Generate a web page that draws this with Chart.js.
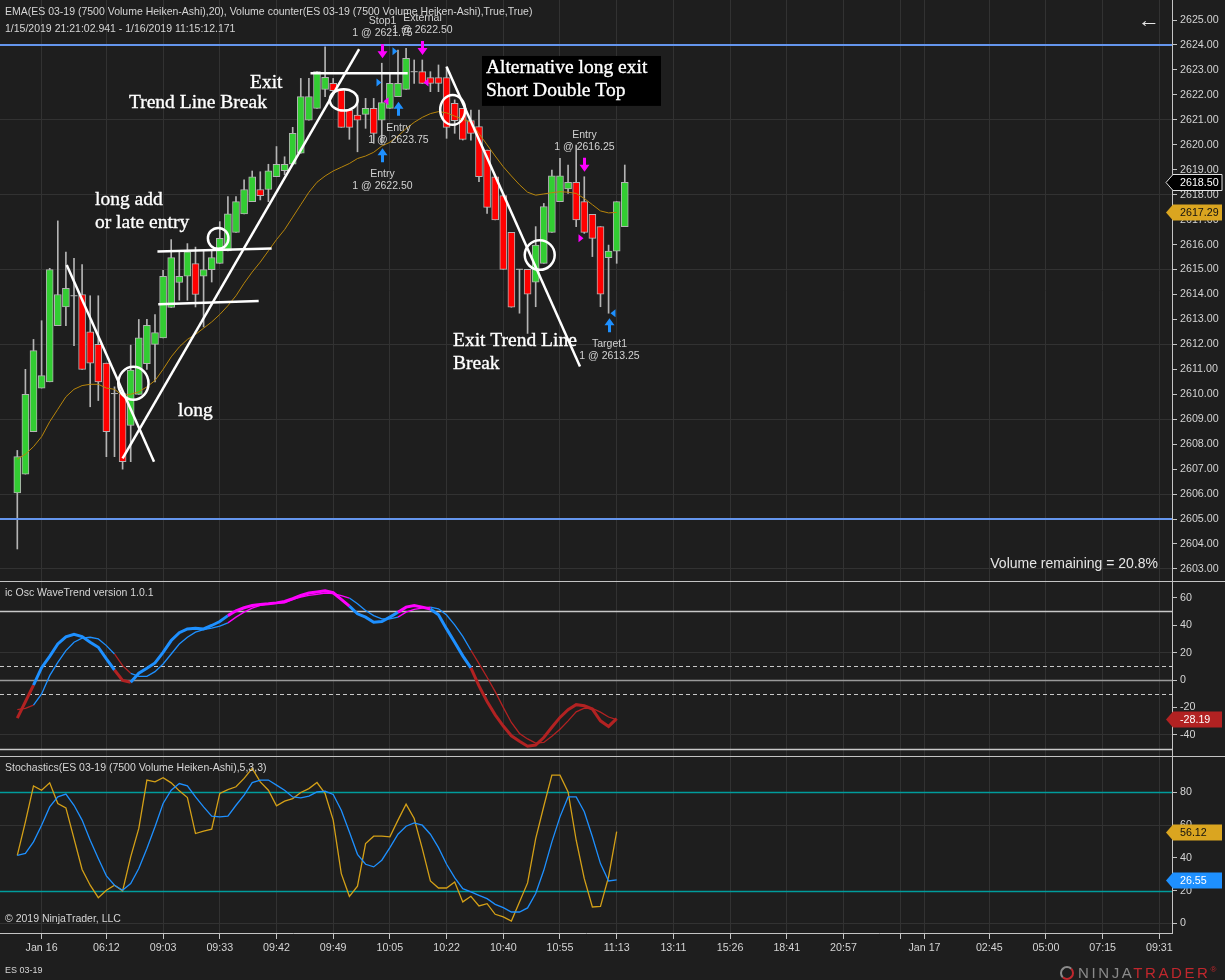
<!DOCTYPE html>
<html lang="en">
<head>
<meta charset="utf-8">
<title>ES 03-19 · 7500 Volume Heiken-Ashi</title>
<script src="https://cdn.jsdelivr.net/npm/chart.js@4.4.1/dist/chart.umd.min.js"></script>
<style>
  html, body { margin: 0; padding: 0; background: #1e1e1e; }
  #chart { position: relative; width: 1225px; height: 980px; overflow: hidden; background: #1e1e1e;
           font-family: "Liberation Sans", Arial, sans-serif; color: #d6d6d6; }
  #chart canvas { position: absolute; left: 0; }
  .t { position: absolute; white-space: nowrap; font-size: 10.5px; line-height: 14px; }
  .sep { position: absolute; left: 0; width: 1225px; height: 1px; background: #c4c4c4; }
</style>
</head>
<body>
<div id="chart">
  <canvas id="pricePanel" width="1225" height="581" style="top:0"></canvas>
  <canvas id="wavePanel" width="1225" height="174" style="top:582px"></canvas>
  <canvas id="stochPanel" width="1225" height="223" style="top:757px"></canvas>
  <div class="sep" style="top:581px"></div>
  <div class="sep" style="top:756px"></div>
  <div class="t" style="left:5px;top:4px">EMA(ES 03-19 (7500 Volume Heiken-Ashi),20), Volume counter(ES 03-19 (7500 Volume Heiken-Ashi),True,True)</div>
  <div class="t" style="left:5px;top:21px">1/15/2019 21:21:02.941 - 1/16/2019 11:15:12.171</div>
  <div class="t" style="left:1138px;top:7px;font-size:22px;line-height:26px;color:#e6e6e6">←</div>
  <div class="t" style="right:67px;top:555px;font-size:14px;line-height:16px;color:#e6e6e6">Volume remaining = 20.8%</div>
  <div class="t" style="left:5px;top:585px">ic Osc WaveTrend version 1.0.1</div>
  <div class="t" style="left:5px;top:760px">Stochastics(ES 03-19 (7500 Volume Heiken-Ashi),5,3,3)</div>
  <div class="t" style="left:5px;top:911px">© 2019 NinjaTrader, LLC</div>
  <div class="t" style="left:5px;top:964px;font-size:9px;line-height:12px">ES 03-19</div>
  <div class="t" style="left:1060px;top:961px;font-size:15px;line-height:18px;letter-spacing:2.6px">
    <span style="display:inline-block;width:14px;height:14px;border:2px solid #8c8c8c;border-right-color:#c0272d;border-bottom-color:#c0272d;border-radius:50%;vertical-align:-2px;margin-right:4px;box-sizing:border-box"></span><span style="color:#8a8a8a">NINJA</span><span style="color:#c0272d">TRADER</span><span style="color:#c0272d;font-size:8px;vertical-align:6px;letter-spacing:0">®</span>
  </div>
</div>

<script>
// ---- price bars (7500 volume Heiken-Ashi), bar index 0..75 ----
const opens = [2606.05, 2606.8, 2608.5, 2610.25, 2610.5, 2612.75, 2613.5, 2613.95, 2614.0, 2612.5,
  2612.0, 2611.25, 2610.03, 2610.03, 2608.75, 2610.0, 2611.23, 2612.0, 2612.26, 2613.48,
  2614.48, 2614.73, 2615.24, 2614.73, 2615.0, 2615.25, 2615.75, 2616.49, 2617.23, 2617.72,
  2618.21, 2618.21, 2618.72, 2618.96, 2619.22, 2619.66, 2620.99, 2621.46, 2622.22, 2622.46,
  2622.2, 2621.39, 2621.19, 2621.22, 2621.46, 2620.99, 2621.46, 2621.93, 2622.22, 2622.93,
  2622.93, 2622.69, 2622.69, 2622.69, 2621.66, 2621.46, 2620.97, 2620.73, 2619.79, 2618.72,
  2617.96, 2616.49, 2615.01, 2615.01, 2614.49, 2615.25, 2616.49, 2617.72, 2618.23, 2618.5,
  2617.72, 2617.21, 2616.72, 2615.48, 2615.74, 2616.72];
const highs = [2607.75, 2611.0, 2612.2, 2612.95, 2615.05, 2616.95, 2615.7, 2615.45, 2615.2, 2613.95,
  2613.95, 2611.25, 2610.3, 2610.03, 2611.97, 2613.0, 2613.0, 2613.2, 2614.97, 2616.2,
  2615.71, 2616.04, 2615.9, 2615.77, 2615.77, 2616.92, 2617.92, 2617.92, 2618.6, 2618.95,
  2618.92, 2619.22, 2619.93, 2619.52, 2620.7, 2622.66, 2622.66, 2622.93, 2623.93, 2622.66,
  2622.2, 2621.39, 2621.99, 2621.86, 2621.86, 2623.27, 2622.86, 2623.8, 2623.87, 2623.4,
  2623.4, 2622.93, 2623.2, 2623.13, 2621.8, 2621.46, 2621.39, 2621.39, 2619.79, 2618.72,
  2617.96, 2616.49, 2615.01, 2615.01, 2616.72, 2617.65, 2618.99, 2619.46, 2619.19, 2619.99,
  2618.72, 2617.21, 2616.72, 2615.98, 2617.72, 2619.19];
const lows = [2603.8, 2606.8, 2608.5, 2610.25, 2610.5, 2612.75, 2612.75, 2611.95, 2611.0, 2609.5,
  2609.75, 2607.5, 2607.5, 2607.0, 2607.3, 2610.0, 2611.0, 2610.5, 2612.26, 2613.48,
  2613.77, 2613.77, 2613.5, 2612.7, 2614.5, 2615.25, 2615.75, 2616.49, 2617.23, 2617.72,
  2617.79, 2617.72, 2618.72, 2618.8, 2619.22, 2619.66, 2620.99, 2621.46, 2621.93, 2622.1,
  2620.7, 2620.22, 2619.72, 2620.66, 2620.06, 2620.06, 2621.46, 2621.93, 2622.22, 2622.46,
  2622.46, 2622.13, 2622.13, 2620.26, 2620.46, 2620.19, 2620.19, 2618.52, 2617.25, 2616.99,
  2615.01, 2613.49, 2613.25, 2612.44, 2613.51, 2615.25, 2616.49, 2617.72, 2618.05, 2616.72,
  2616.45, 2615.52, 2613.51, 2613.25, 2615.25, 2616.72];
const closes = [2607.5, 2610.0, 2611.75, 2610.75, 2615.0, 2614.0, 2614.25, 2613.95, 2611.0, 2611.25,
  2610.5, 2608.5, 2610.03, 2607.3, 2610.97, 2612.26, 2612.76, 2612.47, 2614.73, 2615.48,
  2614.73, 2615.71, 2614.0, 2615.0, 2615.48, 2616.25, 2617.23, 2617.72, 2618.21, 2618.72,
  2617.96, 2618.96, 2619.22, 2619.22, 2620.46, 2621.93, 2621.93, 2622.93, 2622.7, 2622.17,
  2620.7, 2620.7, 2620.99, 2621.46, 2620.46, 2621.69, 2622.46, 2622.46, 2623.47, 2622.93,
  2622.46, 2622.46, 2622.46, 2620.7, 2620.97, 2620.22, 2620.46, 2618.72, 2617.49, 2616.99,
  2615.01, 2613.49, 2615.01, 2614.01, 2615.98, 2617.52, 2618.76, 2618.76, 2618.5, 2616.99,
  2616.49, 2616.25, 2614.01, 2615.74, 2617.72, 2618.5];

// ---- EMA(20), closed bars 0..74 ----
const ema20 = [2607.4, 2607.6, 2607.9, 2608.3, 2608.9, 2609.4, 2609.9, 2610.2, 2610.35, 2610.4,
  2610.4, 2610.25, 2610.2, 2609.95, 2610.0, 2610.1, 2610.3, 2610.55, 2611.0, 2611.5,
  2611.9, 2612.2, 2612.4, 2612.65, 2612.9, 2613.2, 2613.55, 2613.95, 2614.45, 2614.9,
  2615.3, 2615.75, 2616.2, 2616.6, 2617.1, 2617.6, 2618.1, 2618.5, 2618.75, 2618.95,
  2619.1, 2619.25, 2619.45, 2619.55, 2619.7, 2619.95, 2620.1, 2620.35, 2620.65, 2620.9,
  2621.1, 2621.25, 2621.33, 2621.28, 2621.15, 2621.02, 2620.9, 2620.45, 2620.0, 2619.55,
  2619.12, 2618.75, 2618.4, 2618.1, 2617.98, 2618.03, 2618.08, 2618.12, 2618.1, 2618.05,
  2617.85, 2617.6, 2617.35, 2617.27, 2617.29];

// ---- WaveTrend oscillator ----
const waveFast = [-27.8, -15.9, -3.7, 9.0, 17.3, 26.3, 31.5, 33.4, 31.7, 27.6,
  23.9, 15.4, 7.3, -0.3, -1.7, 4.9, 8.5, 12.4, 20.2, 28.8,
  34.5, 37.3, 37.8, 37.3, 39.8, 42.7, 47.0, 50.5, 52.7, 54.4,
  55.1, 55.6, 56.3, 57.3, 59.3, 61.7, 63.5, 64.3, 65.2, 63.7,
  58.8, 53.9, 48.3, 45.9, 42.2, 42.7, 45.9, 49.5, 53.2, 54.4,
  53.2, 51.8, 47.6, 37.3, 27.6, 17.6, 8.8, -4.3, -15.7, -25.4,
  -33.6, -40.7, -44.7, -48.3, -47.5, -42.0, -34.5, -27.3, -21.7, -18.0,
  -18.8, -21.2, -29.8, -33.9, -28.19];
const waveSlow = [-21.7, -20.7, -18.3, -10.2, 3.2, 12.9, 21.5, 27.6, 30.5, 31.2,
  30.0, 25.1, 19.0, 10.5, 4.9, 2.7, 2.7, 6.1, 11.7, 19.0,
  26.3, 31.2, 34.9, 36.8, 37.8, 39.3, 41.7, 45.9, 49.5, 52.4,
  54.4, 55.6, 55.9, 56.3, 58.8, 60.5, 61.7, 62.5, 63.5, 63.0,
  61.5, 59.8, 55.6, 50.7, 47.0, 44.6, 44.6, 45.9, 49.5, 51.5,
  52.4, 53.2, 52.0, 47.4, 40.3, 31.8, 21.7, 11.9, 2.0, -8.5,
  -20.0, -31.0, -39.0, -43.0, -46.0, -45.6, -41.0, -35.9, -29.8, -23.2,
  -20.5, -20.7, -23.5, -27.0, -29.0];
const waveLevels = [50, 10, 0, -10, -50];

// ---- Stochastics(5,3,3) ----
const stochK = [41.6, 62.0, 84.0, 81.4, 85.9, 73.3, 70.6, 51.8, 32.9, 23.3,
  15.7, 20.2, 23.3, 19.8, 40.6, 58.0, 87.6, 86.5, 89.0, 85.9,
  81.0, 76.9, 54.9, 56.3, 57.6, 79.4, 81.8, 83.5, 88.6, 94.7,
  86.5, 81.4, 71.8, 74.7, 76.3, 80.0, 82.4, 86.1, 79.4, 63.1,
  30.4, 16.5, 22.7, 48.8, 53.3, 53.3, 52.9, 63.1, 72.9, 64.1,
  45.7, 25.9, 21.6, 21.6, 25.3, 13.1, 16.5, 10.6, 12.0, 5.5,
  3.9, 1.4, 13.1, 24.7, 51.8, 71.6, 90.6, 90.6, 80.4, 50.8,
  27.3, 10.0, 10.4, 28.4, 56.12];
const stochD = [41.6, 42.7, 49.8, 60.0, 71.2, 77.3, 79.0, 72.2, 63.1, 50.8,
  39.6, 29.0, 23.3, 20.2, 24.3, 33.5, 45.7, 59.0, 73.3, 81.4,
  85.5, 84.1, 77.3, 71.2, 65.5, 65.1, 65.5, 72.2, 78.4, 86.1,
  87.6, 87.6, 84.5, 81.4, 77.3, 76.7, 77.8, 80.4, 80.8, 78.8,
  69.2, 55.9, 42.2, 36.1, 34.5, 38.6, 46.3, 54.5, 59.4, 61.4,
  60.0, 54.5, 46.3, 36.1, 28.0, 21.2, 19.2, 17.1, 15.1, 11.6,
  9.6, 6.9, 6.9, 9.4, 18.2, 32.4, 49.8, 65.1, 77.3, 77.3,
  68.2, 52.9, 36.5, 25.9, 26.55];
const stochLevels = [80, 20];

// ---- time axis ----
const timeTickBars = [3, 11, 18, 25, 32, 39, 46, 53, 60, 67, 74, 81, 88, 95, 102, 109, 112, 120, 127, 134, 141];
const timeTickLabels = ['Jan 16', '06:12', '09:03', '09:33', '09:42', '09:49', '10:05', '10:22', '10:40', '10:55', '11:13',
  '13:11', '15:26', '18:41', '20:57', '', 'Jan 17', '02:45', '05:00', '07:15', '09:31'];

// ---- value axes ----
const priceTicks = [2603, 2604, 2605, 2606, 2607, 2608, 2609, 2610, 2611, 2612, 2613, 2614,
  2615, 2616, 2617, 2618, 2619, 2620, 2621, 2622, 2623, 2624, 2625];
const priceGridTicks = [2603, 2606, 2609, 2612, 2615, 2618, 2621, 2624];
const waveTicks = [-40, -20, 0, 20, 40, 60];
const waveGridTicks = [-40, 20];
const stochTicks = [0, 20, 40, 60, 80];
const stochGridTicks = [0, 60];

// ---- horizontal price lines ----
const priceLines = [2624, 2605];

// ---- chart drawings: [bar, price, bar, price] ----
const drawnLines = [
  [6.1, 2615.18, 16.88, 2607.30],
  [13.0, 2607.43, 42.2, 2623.83],
  [17.3, 2615.72, 31.4, 2615.84],
  [17.4, 2613.61, 29.8, 2613.74],
  [36.2, 2622.87, 48.2, 2622.87],
  [53.0, 2623.13, 69.47, 2611.11]
];
// ellipses: [bar, price, half-width in bars, half-height in points]
const drawnEllipses = [
  [14.33, 2610.44, 1.87, 0.66],
  [24.8, 2616.25, 1.27, 0.42],
  [40.3, 2621.8, 1.72, 0.43],
  [53.75, 2621.4, 1.54, 0.6],
  [64.5, 2615.58, 1.85, 0.59]
];
const noteTexts = ['Exit', 'Trend Line Break', 'long add', 'or late entry', 'long', 'Exit Trend Line', 'Break'];
const noteBars = [28.73, 13.79, 9.59, 9.59, 19.84, 53.79, 53.79];
const notePrices = [2622.48, 2621.68, 2617.79, 2616.87, 2609.33, 2612.14, 2611.21];
const boxTexts = ['Alternative long exit', 'Short Double Top'];
const boxTextBar = 57.86;
const boxTextPrices = [2623.08, 2622.16];
const boxCorners = [57.37, 2623.56, 79.47, 2621.56];

// ---- executions ----
const execBars = [45, 47, 45, 50, 70, 73];
const execPrices = [2622.50, 2623.75, 2621.75, 2622.50, 2616.25, 2613.25];
const execNames = ['Entry', 'Entry', 'Stop1', 'External', 'Entry', 'Target1'];
const execIsBuy = [true, true, false, false, false, true];
const execIsEntry = [true, true, false, false, true, false];
const execQty = [1, 1, 1, 1, 1, 1];

// ---------------------------------------------------------------
const GRID = '#323232';
const AXIS_LINE = '#c4c4c4';
const AXIS_TXT = '#d4d4d4';
const UP = '#32cd32', DOWN = '#ff0000', OUTLINE = '#b4b4b4';
const BUY = '#1e90ff', SELL = '#ff00ff';
const X_MIN = -2.136, X_MAX = 142.56;
const AXIS_W = 53;
const FONT = '"Liberation Sans", Arial, sans-serif';

Chart.defaults.font.family = FONT;
Chart.defaults.color = AXIS_TXT;

function xScale(showLabels, bottomHeight) {
  return {
    type: 'linear', min: X_MIN, max: X_MAX, offset: false,
    afterBuildTicks: s => { s.ticks = timeTickBars.map(v => ({ value: v })); },
    ticks: {
      display: showLabels, autoSkip: false, maxRotation: 0, minRotation: 0, padding: 3,
      color: AXIS_TXT, font: { size: 10.7 },
      callback: v => timeTickLabels[timeTickBars.indexOf(v)] ?? ''
    },
    grid: { color: GRID, offset: false, drawTicks: showLabels, tickLength: 6, tickColor: AXIS_LINE },
    border: { display: showLabels, color: AXIS_LINE, width: 1 },
    afterFit: s => { s.height = showLabels ? bottomHeight : 0; s.paddingLeft = 0; s.paddingRight = 0; }
  };
}

function yScale(min, max, ticks, gridTicks, fmt) {
  return {
    type: 'linear', position: 'right', min, max,
    afterBuildTicks: s => { s.ticks = ticks.map(v => ({ value: v })); },
    ticks: { autoSkip: false, padding: 3, color: AXIS_TXT, font: { size: 10.7 }, callback: fmt },
    grid: {
      color: c => (c.tick && gridTicks.includes(c.tick.value)) ? GRID : 'rgba(0,0,0,0)',
      tickLength: 5, tickColor: AXIS_LINE
    },
    border: { color: AXIS_LINE, width: 1 },
    afterFit: s => { s.width = AXIS_W; s.paddingTop = 0; s.paddingBottom = 0; }
  };
}

const baseOptions = {
  responsive: false, animation: false, devicePixelRatio: 1, events: [],
  layout: { padding: 0, autoPadding: false },
  plugins: { legend: { display: false }, tooltip: { enabled: false } }
};

// value tag at the right edge of a panel
function drawTag(chart, value, text, fill, color, stroke) {
  const { ctx, chartArea, scales: { y } } = chart;
  const yy = Math.round(y.getPixelForValue(value)) + 0.5;
  const x0 = chartArea.right - 6, x1 = chartArea.right + 50, h = 8;
  ctx.save();
  ctx.beginPath();
  ctx.moveTo(x0, yy);
  ctx.lineTo(x0 + 7, yy - h);
  ctx.lineTo(x1, yy - h);
  ctx.lineTo(x1, yy + h);
  ctx.lineTo(x0 + 7, yy + h);
  ctx.closePath();
  ctx.fillStyle = fill;
  ctx.fill();
  if (stroke) { ctx.strokeStyle = stroke; ctx.lineWidth = 1; ctx.stroke(); }
  ctx.fillStyle = color;
  ctx.font = '10.7px ' + FONT;
  ctx.textAlign = 'left';
  ctx.textBaseline = 'middle';
  ctx.fillText(text, chartArea.right + 8, yy + 0.5);
  ctx.restore();
}

// horizontal reference lines of an oscillator panel
function levelLines(levels, styleFor) {
  return {
    id: 'levels',
    beforeDatasetsDraw(chart) {
      const { ctx, chartArea: a, scales: { y } } = chart;
      ctx.save();
      levels.forEach(v => {
        const st = styleFor(v);
        const yy = Math.round(y.getPixelForValue(v)) + 0.5;
        ctx.strokeStyle = st.color;
        ctx.lineWidth = st.width;
        ctx.setLineDash(st.dash || []);
        ctx.beginPath();
        ctx.moveTo(a.left, yy);
        ctx.lineTo(a.right, yy);
        ctx.stroke();
      });
      ctx.restore();
    }
  };
}

// ---------------- price panel ----------------
const wickData = highs.map((h, i) => ({ x: i, y: [lows[i], h] }));
const bodyData = [];
const dojiData = [];
opens.forEach((o, i) => {
  const c = closes[i];
  if (o === c) dojiData.push({ x: i, y: o });
  else bodyData.push({ x: i, y: [Math.min(o, c), Math.max(o, c)], up: c > o });
});

function drawExecution(ctx, i, px, py) {
  const bar = execBars[i];
  const cx = Math.round(px(bar)) + 0.5;
  const buy = execIsBuy[i];
  ctx.fillStyle = buy ? BUY : SELL;
  // fill price marker
  const ty = py(execPrices[i]);
  ctx.beginPath();
  if (execIsEntry[i]) { ctx.moveTo(cx - 1, ty); ctx.lineTo(cx - 6, ty - 4); ctx.lineTo(cx - 6, ty + 4); }
  else { ctx.moveTo(cx + 1, ty); ctx.lineTo(cx + 6, ty - 4); ctx.lineTo(cx + 6, ty + 4); }
  ctx.closePath();
  ctx.fill();
  // arrow beside the bar
  const dir = buy ? 1 : -1;
  const tip = buy ? py(lows[bar]) + 5 : py(highs[bar]) - 5;
  ctx.beginPath();
  ctx.moveTo(cx, tip);
  ctx.lineTo(cx + 5, tip + dir * 7);
  ctx.lineTo(cx + 1.5, tip + dir * 7);
  ctx.lineTo(cx + 1.5, tip + dir * 14);
  ctx.lineTo(cx - 1.5, tip + dir * 14);
  ctx.lineTo(cx - 1.5, tip + dir * 7);
  ctx.lineTo(cx - 5, tip + dir * 7);
  ctx.closePath();
  ctx.fill();
  // label
  ctx.fillStyle = '#d2d2d2';
  ctx.font = '10.5px ' + FONT;
  ctx.textAlign = 'center';
  ctx.textBaseline = 'middle';
  const l1 = buy ? tip + 26 : tip - 37;
  ctx.fillText(execNames[i], cx, l1);
  ctx.fillText(execQty[i] + ' @ ' + execPrices[i].toFixed(2), cx, l1 + 12);
}

const drawingsPlugin = {
  id: 'drawings',
  afterDatasetsDraw(chart) {
    const { ctx, chartArea: a, scales: { x, y } } = chart;
    const px = v => x.getPixelForValue(v);
    const py = v => y.getPixelForValue(v);
    ctx.save();
    ctx.beginPath();
    ctx.rect(a.left, a.top, a.width, a.height);
    ctx.clip();

    // black text box
    const bx0 = px(boxCorners[0]), by0 = py(boxCorners[1]);
    const bx1 = px(boxCorners[2]), by1 = py(boxCorners[3]);
    ctx.fillStyle = '#000000';
    ctx.fillRect(bx0, by0, bx1 - bx0, by1 - by0);

    // trend lines and circles
    ctx.strokeStyle = '#ffffff';
    ctx.lineWidth = 2.5;
    drawnLines.forEach(([b1, p1, b2, p2]) => {
      ctx.beginPath();
      ctx.moveTo(px(b1), py(p1));
      ctx.lineTo(px(b2), py(p2));
      ctx.stroke();
    });
    drawnEllipses.forEach(([b, p, rb, rp]) => {
      ctx.beginPath();
      ctx.ellipse(px(b), py(p), px(b + rb) - px(b), py(p) - py(p + rp), 0, 0, Math.PI * 2);
      ctx.stroke();
    });

    // notes
    ctx.fillStyle = '#ffffff';
    ctx.strokeStyle = '#ffffff';
    ctx.lineWidth = 0.35;
    ctx.font = '19.5px "Liberation Serif", "Times New Roman", serif';
    ctx.textAlign = 'left';
    ctx.textBaseline = 'middle';
    const note = (t, b, p) => { ctx.fillText(t, px(b), py(p)); ctx.strokeText(t, px(b), py(p)); };
    noteTexts.forEach((t, i) => note(t, noteBars[i], notePrices[i]));
    boxTexts.forEach((t, i) => note(t, boxTextBar, boxTextPrices[i]));

    // executions
    execBars.forEach((b, i) => drawExecution(ctx, i, px, py));
    ctx.restore();
  },
  afterDraw(chart) {
    const last = closes[closes.length - 1];
    const lastEma = ema20[ema20.length - 1];
    drawTag(chart, lastEma, lastEma.toFixed(2), '#daa520', '#111111', null);
    drawTag(chart, last, last.toFixed(2), '#000000', '#ffffff', '#e0e0e0');
  }
};

new Chart(document.getElementById('pricePanel'), {
  type: 'bar',
  data: {
    datasets: [
      ...priceLines.map(v => ({
        type: 'line', data: [{ x: X_MIN, y: v }, { x: X_MAX, y: v }],
        borderColor: '#6495ed', borderWidth: 2, pointRadius: 0, order: 1
      })),
      {
        type: 'line', data: ema20.map((v, i) => ({ x: i, y: v })),
        borderColor: '#b8860b', borderWidth: 1, pointRadius: 0, tension: 0, order: 2
      },
      {
        type: 'scatter', data: dojiData, pointStyle: 'line', pointRadius: 3.5,
        borderColor: OUTLINE, borderWidth: 1, order: 3
      },
      {
        type: 'bar', data: bodyData, grouped: false, barThickness: 7,
        backgroundColor: c => (c.raw && c.raw.up) ? UP : DOWN,
        borderColor: OUTLINE, borderWidth: 1, borderSkipped: false, order: 4
      },
      {
        type: 'bar', data: wickData, grouped: false, barThickness: 1,
        backgroundColor: OUTLINE, borderWidth: 0, order: 5
      }
    ]
  },
  options: {
    ...baseOptions,
    scales: {
      x: xScale(false, 0),
      y: yScale(2602.517, 2625.8036, priceTicks, priceGridTicks, v => v.toFixed(2))
    }
  },
  plugins: [drawingsPlugin]
});

// ---------------- WaveTrend panel ----------------
const waveColor = v => v > 50 ? '#ff00ff' : (v < 0 ? '#b22222' : '#1e90ff');
const waveSeg = { borderColor: c => waveColor(waveFast[c.p1DataIndex]) };

new Chart(document.getElementById('wavePanel'), {
  type: 'line',
  data: {
    datasets: [
      {
        data: waveFast.map((v, i) => ({ x: i, y: v })), segment: waveSeg,
        borderColor: '#1e90ff', borderWidth: 3, pointRadius: 0, tension: 0, order: 1
      },
      {
        data: waveSlow.map((v, i) => ({ x: i, y: v })), segment: waveSeg,
        borderColor: '#1e90ff', borderWidth: 1.3, pointRadius: 0, tension: 0, order: 2
      }
    ]
  },
  options: {
    ...baseOptions,
    scales: {
      x: xScale(false, 0),
      y: yScale(-55.47, 71.53, waveTicks, waveGridTicks, v => String(v))
    }
  },
  plugins: [
    levelLines(waveLevels, v => v === 0 ? { color: '#9a9a9a', width: 1.3 }
      : (Math.abs(v) === 10 ? { color: '#c8c8c8', width: 1, dash: [4, 3] } : { color: '#c8c8c8', width: 1.3 })),
    { id: 'waveTag', afterDraw(chart) {
        const v = waveFast[waveFast.length - 1];
        drawTag(chart, v, v.toFixed(2), '#b22222', '#ffffff', null);
    } }
  ]
});

// ---------------- Stochastics panel ----------------
new Chart(document.getElementById('stochPanel'), {
  type: 'line',
  data: {
    datasets: [
      {
        data: stochK.map((v, i) => ({ x: i, y: v })),
        borderColor: '#d4a017', borderWidth: 1.3, pointRadius: 0, tension: 0, order: 2
      },
      {
        data: stochD.map((v, i) => ({ x: i, y: v })),
        borderColor: '#1e90ff', borderWidth: 1.3, pointRadius: 0, tension: 0, order: 1
      }
    ]
  },
  options: {
    ...baseOptions,
    scales: {
      x: xScale(true, 47),
      y: yScale(-5.93, 101.71, stochTicks, stochGridTicks, v => String(v))
    }
  },
  plugins: [
    levelLines(stochLevels, () => ({ color: '#009c9c', width: 1.3 })),
    { id: 'stochTags', afterDraw(chart) {
        const k = stochK[stochK.length - 1], d = stochD[stochD.length - 1];
        drawTag(chart, k, k.toFixed(2), '#daa520', '#111111', null);
        drawTag(chart, d, d.toFixed(2), '#1e90ff', '#ffffff', null);
    } }
  ]
});
</script>
</body>
</html>
